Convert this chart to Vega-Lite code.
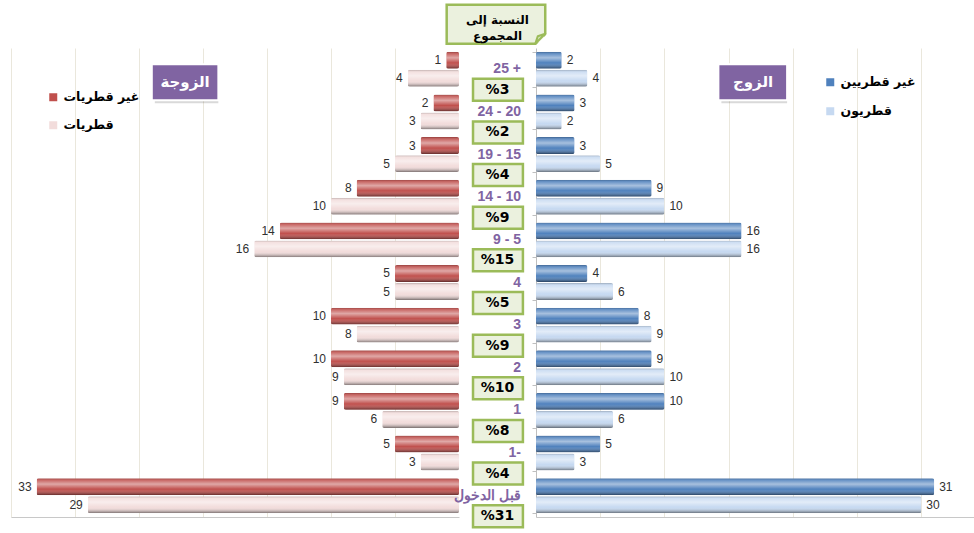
{
  "$schema": "https://vega.github.io/schema/vega-lite/v6.json",
  "background": "white",
  "padding": {"left": 11, "top": 3, "right": 0, "bottom": 0},
  "bounds": "flush",
  "spacing": 0,
  "config": {"view": {"stroke": null}, "font": "Liberation Sans"},
  "resolve": {
    "scale": {"color": "independent", "yOffset": "independent", "x": "independent", "y": "independent"},
    "legend": {"color": "independent"}
  },
  "datasets": {
    "pyr": [
      {"side": "wife", "series": "غير قطريات", "cat": "+ 25", "value": 1},
      {"side": "wife", "series": "غير قطريات", "cat": "20 - 24", "value": 2},
      {"side": "wife", "series": "غير قطريات", "cat": "15 - 19", "value": 3},
      {"side": "wife", "series": "غير قطريات", "cat": "10 - 14", "value": 8},
      {"side": "wife", "series": "غير قطريات", "cat": "5 - 9", "value": 14},
      {"side": "wife", "series": "غير قطريات", "cat": "4", "value": 5},
      {"side": "wife", "series": "غير قطريات", "cat": "3", "value": 10},
      {"side": "wife", "series": "غير قطريات", "cat": "2", "value": 10},
      {"side": "wife", "series": "غير قطريات", "cat": "1", "value": 9},
      {"side": "wife", "series": "غير قطريات", "cat": "-1", "value": 5},
      {"side": "wife", "series": "غير قطريات", "cat": "قبل الدخول", "value": 33},
      {"side": "wife", "series": "قطريات", "cat": "+ 25", "value": 4},
      {"side": "wife", "series": "قطريات", "cat": "20 - 24", "value": 3},
      {"side": "wife", "series": "قطريات", "cat": "15 - 19", "value": 5},
      {"side": "wife", "series": "قطريات", "cat": "10 - 14", "value": 10},
      {"side": "wife", "series": "قطريات", "cat": "5 - 9", "value": 16},
      {"side": "wife", "series": "قطريات", "cat": "4", "value": 5},
      {"side": "wife", "series": "قطريات", "cat": "3", "value": 8},
      {"side": "wife", "series": "قطريات", "cat": "2", "value": 9},
      {"side": "wife", "series": "قطريات", "cat": "1", "value": 6},
      {"side": "wife", "series": "قطريات", "cat": "-1", "value": 3},
      {"side": "wife", "series": "قطريات", "cat": "قبل الدخول", "value": 29},
      {"side": "husband", "series": "غير قطريين", "cat": "+ 25", "value": 2},
      {"side": "husband", "series": "غير قطريين", "cat": "20 - 24", "value": 3},
      {"side": "husband", "series": "غير قطريين", "cat": "15 - 19", "value": 3},
      {"side": "husband", "series": "غير قطريين", "cat": "10 - 14", "value": 9},
      {"side": "husband", "series": "غير قطريين", "cat": "5 - 9", "value": 16},
      {"side": "husband", "series": "غير قطريين", "cat": "4", "value": 4},
      {"side": "husband", "series": "غير قطريين", "cat": "3", "value": 8},
      {"side": "husband", "series": "غير قطريين", "cat": "2", "value": 9},
      {"side": "husband", "series": "غير قطريين", "cat": "1", "value": 10},
      {"side": "husband", "series": "غير قطريين", "cat": "-1", "value": 5},
      {"side": "husband", "series": "غير قطريين", "cat": "قبل الدخول", "value": 31},
      {"side": "husband", "series": "قطريون", "cat": "+ 25", "value": 4},
      {"side": "husband", "series": "قطريون", "cat": "20 - 24", "value": 2},
      {"side": "husband", "series": "قطريون", "cat": "15 - 19", "value": 5},
      {"side": "husband", "series": "قطريون", "cat": "10 - 14", "value": 10},
      {"side": "husband", "series": "قطريون", "cat": "5 - 9", "value": 16},
      {"side": "husband", "series": "قطريون", "cat": "4", "value": 6},
      {"side": "husband", "series": "قطريون", "cat": "3", "value": 9},
      {"side": "husband", "series": "قطريون", "cat": "2", "value": 10},
      {"side": "husband", "series": "قطريون", "cat": "1", "value": 6},
      {"side": "husband", "series": "قطريون", "cat": "-1", "value": 3},
      {"side": "husband", "series": "قطريون", "cat": "قبل الدخول", "value": 30}
    ],
    "pct": [
      {"cat": "+ 25", "label": "25 +", "pct": 3},
      {"cat": "20 - 24", "label": "24 - 20", "pct": 2},
      {"cat": "15 - 19", "label": "19 - 15", "pct": 4},
      {"cat": "10 - 14", "label": "14 - 10", "pct": 9},
      {"cat": "5 - 9", "label": "9 - 5", "pct": 15},
      {"cat": "4", "label": "4", "pct": 5},
      {"cat": "3", "label": "3", "pct": 9},
      {"cat": "2", "label": "2", "pct": 10},
      {"cat": "1", "label": "1", "pct": 8},
      {"cat": "-1", "label": "1-", "pct": 4},
      {"cat": "قبل الدخول", "label": "قبل الدخول", "pct": 31}
    ]
  },
  "hconcat": [
    {
      "width": 448,
      "height": 469,
      "data": {"name": "pyr"},
      "transform": [{"filter": "datum.side == 'wife'"}],
      "encoding": {
        "y": {"field": "cat", "type": "nominal", "scale": {"domain": ["+ 25", "20 - 24", "15 - 19", "10 - 14", "5 - 9", "4", "3", "2", "1", "-1", "قبل الدخول"], "paddingInner": 0.18, "paddingOuter": 0.09}, "axis": null}
      },
      "layer": [
        {
          "mark": {"type": "bar", "cornerRadius": 2},
          "encoding": {
            "x": {"field": "value", "type": "quantitative", "scale": {"domain": [0, 35], "reverse": true, "nice": false}, "axis": {"values": [5, 10, 15, 20, 25, 30, 35], "labels": false, "ticks": false, "title": null, "grid": true, "gridColor": "#EAE7DC", "domainColor": "#C8C8C8", "orient": "bottom"}},
            "yOffset": {"field": "series", "scale": {"domain": ["غير قطريات", "قطريات"], "paddingInner": 0.06}},
            "color": {"field": "series", "type": "nominal", "scale": {"domain": ["غير قطريات", "قطريات"], "range": ["#C0504D", "#F2DCDB"]}, "legend": {"orient": "none", "legendX": 36, "legendY": 43, "title": null, "symbolType": "square", "symbolSize": 64, "symbolStrokeWidth": 0, "labelFontSize": 12.5, "labelFont": "DejaVu Sans", "labelFontWeight": "bold", "labelColor": "#000000", "rowPadding": 15, "labelOffset": 4}}
          }
        },
        {
          "mark": {"type": "bar", "cornerRadius": 2, "fill": {"gradient": "linear", "x1": 0, "y1": 0, "x2": 0, "y2": 1, "stops": [{"offset": 0, "color": "rgba(0,0,0,0.22)"}, {"offset": 0.12, "color": "rgba(255,255,255,0.15)"}, {"offset": 0.35, "color": "rgba(255,255,255,0.5)"}, {"offset": 0.65, "color": "rgba(255,255,255,0.0)"}, {"offset": 1, "color": "rgba(0,0,0,0.5)"}]}},
          "encoding": {
            "x": {"field": "value", "type": "quantitative"},
            "yOffset": {"field": "series"}
          }
        },
        {
          "mark": {"type": "text", "align": "right", "baseline": "middle", "dx": -5, "fontSize": 12, "color": "#303030"},
          "encoding": {
            "x": {"field": "value", "type": "quantitative"},
            "yOffset": {"field": "series"},
            "text": {"field": "value"}
          }
        },
        {
          "data": {"values": [{}]},
          "mark": {"type": "bar", "height": 36, "yOffset": 16, "xOffset": 3, "fill": "#000000", "opacity": 0.15},
          "encoding": {"x": {"datum": 24}, "x2": {"datum": 18.8}, "y": {"datum": "+ 25"}}
        },
        {
          "data": {"values": [{}]},
          "mark": {"type": "bar", "height": 36, "yOffset": 13, "fill": "#8064A2", "stroke": "white", "strokeWidth": 2},
          "encoding": {"x": {"datum": 24}, "x2": {"datum": 18.8}, "y": {"datum": "+ 25"}}
        },
        {
          "data": {"values": [{}]},
          "mark": {"type": "text", "yOffset": 13, "align": "center", "baseline": "middle", "fontSize": 15, "fontWeight": "bold", "font": "DejaVu Sans", "color": "white", "text": "الزوجة"},
          "encoding": {"x": {"datum": 21.4}, "y": {"datum": "+ 25"}}
        }
      ]
    },
    {
      "width": 77,
      "height": 469,
      "data": {"name": "pct"},
      "encoding": {
        "y": {"field": "cat", "type": "nominal", "scale": {"domain": ["+ 25", "20 - 24", "15 - 19", "10 - 14", "5 - 9", "4", "3", "2", "1", "-1", "قبل الدخول"], "paddingInner": 0.18, "paddingOuter": 0.09}, "axis": null}
      },
      "layer": [
        {
          "data": {"values": [{}]},
          "mark": {"type": "bar", "height": 39, "yOffset": -45, "fill": "#EBF1DE", "stroke": "#9BBB59", "strokeWidth": 2.5},
          "encoding": {"x": {"datum": -1.6, "type": "quantitative", "scale": {"domain": [0, 10], "nice": false}, "axis": null}, "x2": {"datum": 11.2}, "y": {"datum": "+ 25"}}
        },
        {
          "data": {"values": [{}]},
          "mark": {"type": "point", "shape": "M 0.25 0.25 L -1.05 0.25 L 0.25 -1.05 Z", "size": 400, "filled": true, "fill": "white", "stroke": null, "opacity": 1, "yOffset": -25.5},
          "encoding": {"x": {"datum": 11.2}, "y": {"datum": "+ 25"}}
        },
        {
          "data": {"values": [{}]},
          "mark": {"type": "point", "shape": "M -1 0 L 0 -1 L -0.75 -0.75 Z", "size": 400, "filled": true, "fill": "#D7E4BD", "stroke": "#9BBB59", "strokeWidth": 2, "strokeJoin": "round", "opacity": 1, "yOffset": -25.5},
          "encoding": {"x": {"datum": 11.2}, "y": {"datum": "+ 25"}}
        },
        {
          "data": {"values": [{}]},
          "mark": {"type": "text", "yOffset": -49, "align": "center", "baseline": "middle", "fontSize": 12, "fontWeight": "bold", "font": "DejaVu Sans", "color": "#000000", "lineHeight": 16, "text": ["النسبة إلى", "المجموع"]},
          "encoding": {"x": {"datum": 5}, "y": {"datum": "+ 25"}}
        },
        {
          "mark": {"type": "bar", "height": 22, "yOffset": 20.5, "fill": "#EBF1DE", "stroke": "#9BBB59", "strokeWidth": 2.5},
          "encoding": {"x": {"datum": 1.82}, "x2": {"datum": 8.3}}
        },
        {
          "mark": {"type": "text", "yOffset": 20.5, "align": "center", "baseline": "middle", "fontSize": 14, "fontWeight": "bold", "font": "DejaVu Sans", "color": "#000000", "text": {"expr": "'%' + datum.pct"}},
          "encoding": {"x": {"datum": 5}}
        },
        {
          "mark": {"type": "text", "align": "right", "baseline": "middle", "fontSize": 14, "fontWeight": "bold", "font": "Liberation Sans", "color": "#8064A2"},
          "encoding": {"x": {"datum": 8.05}, "text": {"field": "label"}}
        }
      ]
    },
    {
      "width": 438,
      "height": 469,
      "data": {"name": "pyr"},
      "transform": [{"filter": "datum.side == 'husband'"}],
      "encoding": {
        "y": {"field": "cat", "type": "nominal", "scale": {"domain": ["+ 25", "20 - 24", "15 - 19", "10 - 14", "5 - 9", "4", "3", "2", "1", "-1", "قبل الدخول"], "paddingInner": 0.18, "paddingOuter": 0.09}, "axis": {"orient": "left", "labels": false, "ticks": true, "tickSize": 4, "tickBand": "extent", "domainColor": "#BFBFBF", "tickColor": "#BFBFBF", "title": null, "grid": false}}
      },
      "layer": [
        {
          "mark": {"type": "bar", "cornerRadius": 2},
          "encoding": {
            "x": {"field": "value", "type": "quantitative", "scale": {"domain": [0, 34.1], "nice": false}, "axis": {"values": [5, 10, 15, 20, 25, 30], "labels": false, "ticks": false, "title": null, "grid": true, "gridColor": "#EAE7DC", "domainColor": "#C8C8C8", "orient": "bottom"}},
            "yOffset": {"field": "series", "scale": {"domain": ["غير قطريين", "قطريون"], "paddingInner": 0.06}},
            "color": {"field": "series", "type": "nominal", "scale": {"domain": ["غير قطريين", "قطريون"], "range": ["#4F81BD", "#C6D9F1"]}, "legend": {"orient": "none", "legendX": 288, "legendY": 28, "title": null, "symbolType": "square", "symbolSize": 64, "symbolStrokeWidth": 0, "labelFontSize": 12.5, "labelFont": "DejaVu Sans", "labelFontWeight": "bold", "labelColor": "#000000", "rowPadding": 16, "labelOffset": 4}}
          }
        },
        {
          "mark": {"type": "bar", "cornerRadius": 2, "fill": {"gradient": "linear", "x1": 0, "y1": 0, "x2": 0, "y2": 1, "stops": [{"offset": 0, "color": "rgba(0,0,0,0.22)"}, {"offset": 0.12, "color": "rgba(255,255,255,0.15)"}, {"offset": 0.35, "color": "rgba(255,255,255,0.5)"}, {"offset": 0.65, "color": "rgba(255,255,255,0.0)"}, {"offset": 1, "color": "rgba(0,0,0,0.5)"}]}},
          "encoding": {
            "x": {"field": "value", "type": "quantitative"},
            "yOffset": {"field": "series"}
          }
        },
        {
          "mark": {"type": "text", "align": "left", "baseline": "middle", "dx": 5, "fontSize": 12, "color": "#303030"},
          "encoding": {
            "x": {"field": "value", "type": "quantitative"},
            "yOffset": {"field": "series"},
            "text": {"field": "value"}
          }
        },
        {
          "data": {"values": [{}]},
          "mark": {"type": "bar", "height": 36, "yOffset": 16, "xOffset": 3, "fill": "#000000", "opacity": 0.15},
          "encoding": {"x": {"datum": 14.2}, "x2": {"datum": 19.55}, "y": {"datum": "+ 25"}}
        },
        {
          "data": {"values": [{}]},
          "mark": {"type": "bar", "height": 36, "yOffset": 13, "fill": "#8064A2", "stroke": "white", "strokeWidth": 2},
          "encoding": {"x": {"datum": 14.2}, "x2": {"datum": 19.55}, "y": {"datum": "+ 25"}}
        },
        {
          "data": {"values": [{}]},
          "mark": {"type": "text", "yOffset": 13, "align": "center", "baseline": "middle", "fontSize": 15, "fontWeight": "bold", "font": "DejaVu Sans", "color": "white", "text": "الزوج"},
          "encoding": {"x": {"datum": 16.9}, "y": {"datum": "+ 25"}}
        }
      ]
    }
  ]
}
